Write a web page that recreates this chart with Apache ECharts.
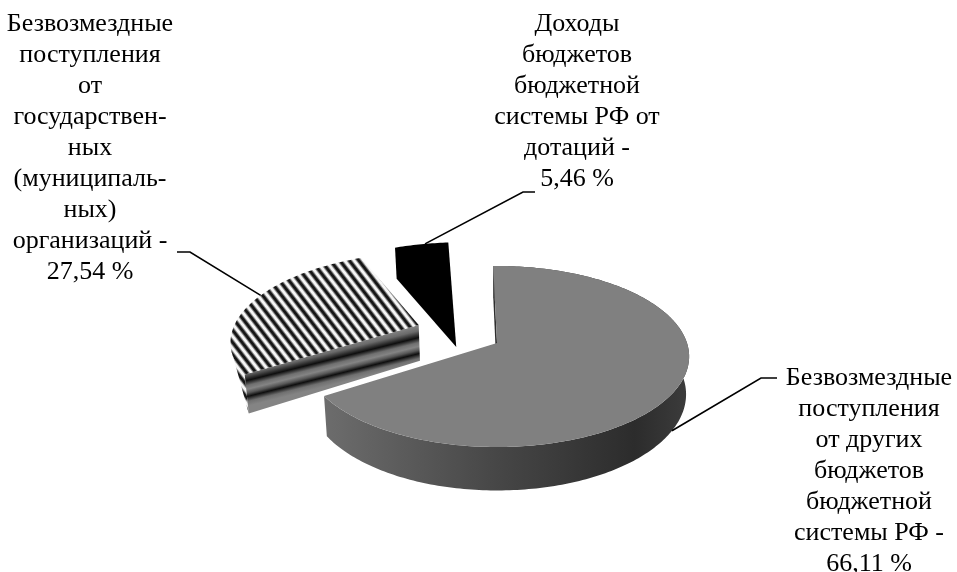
<!DOCTYPE html>
<html><head><meta charset="utf-8">
<style>html,body{margin:0;padding:0;background:#fff}#c{width:957px;height:572px}</style>
<script src="https://cdn.jsdelivr.net/npm/echarts@6/dist/echarts.min.js"></script>
</head><body><div id="c"></div>
<script>
const categories = ['Безвозмездные поступления от других бюджетов бюджетной системы РФ','Безвозмездные поступления от государственных (муниципальных) организаций','Доходы бюджетов бюджетной системы РФ от дотаций'];
const shares = [66.11, 27.54, 5.46];
const labelLines = [
  ['Безвозмездные','поступления','от других','бюджетов','бюджетной','системы РФ -','66,11 %'],
  ['Безвозмездные','поступления','от','государствен-','ных','(муниципаль-','ных)','организаций -','27,54 %'],
  ['Доходы','бюджетов','бюджетной','системы РФ от','дотаций -','5,46 %']
];
const drawOrder=[2,1,0];
// layout
const apex=[497,343], RX=190, RY=88.5, K=0.149, DEPTH=37, START=-1.3, WHOLE=100, BOTTOM_X=0.984;
const explode=[[0,0],[-0.425,-0.21],[-0.23,-0.37]];
const labelPos=[[869,378],[90,24],[577,24]];
const LH=31;
const RIM_LEFT=254;
const leaders=[
  {deg:120,pts:[[761,378],[777,378]]},
  {deg:292,pts:[[190,252],[177,252]]},
  {deg:347,pts:[[523,192],[535,192]]}
];
function proj(th,r,ex,bottom){
  const a=th*Math.PI/180;
  const u=r*Math.sin(a)+ex[0], v=-r*Math.cos(a)+ex[1];
  const s=1/(1-K*v);
  let x=RX*u*s, y=RY*v*s;
  if(bottom){x*=BOTTOM_X;y+=DEPTH*s;}
  return [apex[0]+x,apex[1]+y];
}
function arc(a,b,ex,bottom){const out=[];const n=Math.ceil(Math.abs(b-a));for(let i=0;i<=n;i++)out.push(proj(a+(b-a)*i/n,1,ex,bottom));return out;}
function stripes(x1,y1,x2,y2,n,dark,light){
  const st=[];
  for(let i=0;i<n;i++){
    const f=i/n,w=1/n;
    st.push({offset:f,color:light},{offset:f+w*0.22,color:light},{offset:f+w*0.5,color:dark},{offset:f+w*0.72,color:dark});
  }
  st.push({offset:1,color:light});
  return new echarts.graphic.LinearGradient(x1,y1,x2,y2,st,true);
}
function poly(points,fill){return {type:'polygon',shape:{points},style:{fill}};}
const starts=[];let c=START;shares.forEach(v=>{starts.push(c);c+=v/WHOLE*360;});
function render(params,api){
  const i=drawOrder[params.dataIndex], a=starts[i], b=a+api.value(0)/WHOLE*360, ex=explode[i];
  const ch=[];
  const top=[proj(0,0,ex,false)].concat(arc(a,b,ex,false));
  const band=arc(a,b,ex,false).concat(arc(a,b,ex,true).reverse());
  const faceA=[proj(0,0,ex,false),proj(a,1,ex,false),proj(a,1,ex,true),proj(0,0,ex,true)];
  if(i===0){
    ch.push(poly(faceA,'#2e2e2e'));
    const l=new echarts.graphic.LinearGradient(327,0,689,0,[{offset:0,color:'#6c6c6c'},{offset:.45,color:'#484848'},{offset:.85,color:'#2c2c2c'},{offset:1,color:'#3c3c3c'}],true);
    ch.push(poly(band,l));
    ch.push(poly(top,'#808080'));
  } else if(i===1){
    const p0=proj(0,0,ex,false);
    const st=stripes(226,415,422,264,33,'#161616','#f6f6f6');
    ch.push(poly(arc(a,RIM_LEFT,ex,false).concat([proj(a,1,ex,true)]),st));
    const g=new echarts.graphic.LinearGradient(p0[0],p0[1],p0[0]+9,p0[1]+36,[
      {offset:0,color:'#868686'},{offset:.15,color:'#6a6a6a'},{offset:.33,color:'#0e0e0e'},{offset:.46,color:'#707070'},{offset:.56,color:'#848484'},{offset:.66,color:'#555'},{offset:.75,color:'#0e0e0e'},{offset:.88,color:'#707070'},{offset:1,color:'#848484'}],true);
    ch.push(poly(faceA,g));
    ch.push(poly(top,st));
  } else {
    const hull=arc(a,b,ex,false).concat([proj(0,0,ex,true),proj(a,1,ex,true)]);
    ch.push(poly(hull,'#000'));
  }
  const L=leaders[i];
  ch.push({type:'polyline',shape:{points:[proj(L.deg,1,ex,i===0)].concat(L.pts)},style:{stroke:'#000',lineWidth:1.6,fill:null},z2:5});
  labelLines[i].forEach((t,k)=>ch.push({type:'text',x:labelPos[i][0],y:labelPos[i][1]+k*LH,style:{text:t,font:'26px "Liberation Serif"',fill:'#000',align:'center',verticalAlign:'middle'},z2:6}));
  return {type:'group',children:ch};
}
const chart=echarts.init(document.getElementById('c'),null,{renderer:'canvas'});
chart.setOption({animation:false,backgroundColor:'#fff',
  series:[{type:'custom',coordinateSystem:'none',renderItem:render,clip:false,
    data:drawOrder.map(i=>({value:[shares[i]],name:categories[i]}))}]});
</script></body></html>
